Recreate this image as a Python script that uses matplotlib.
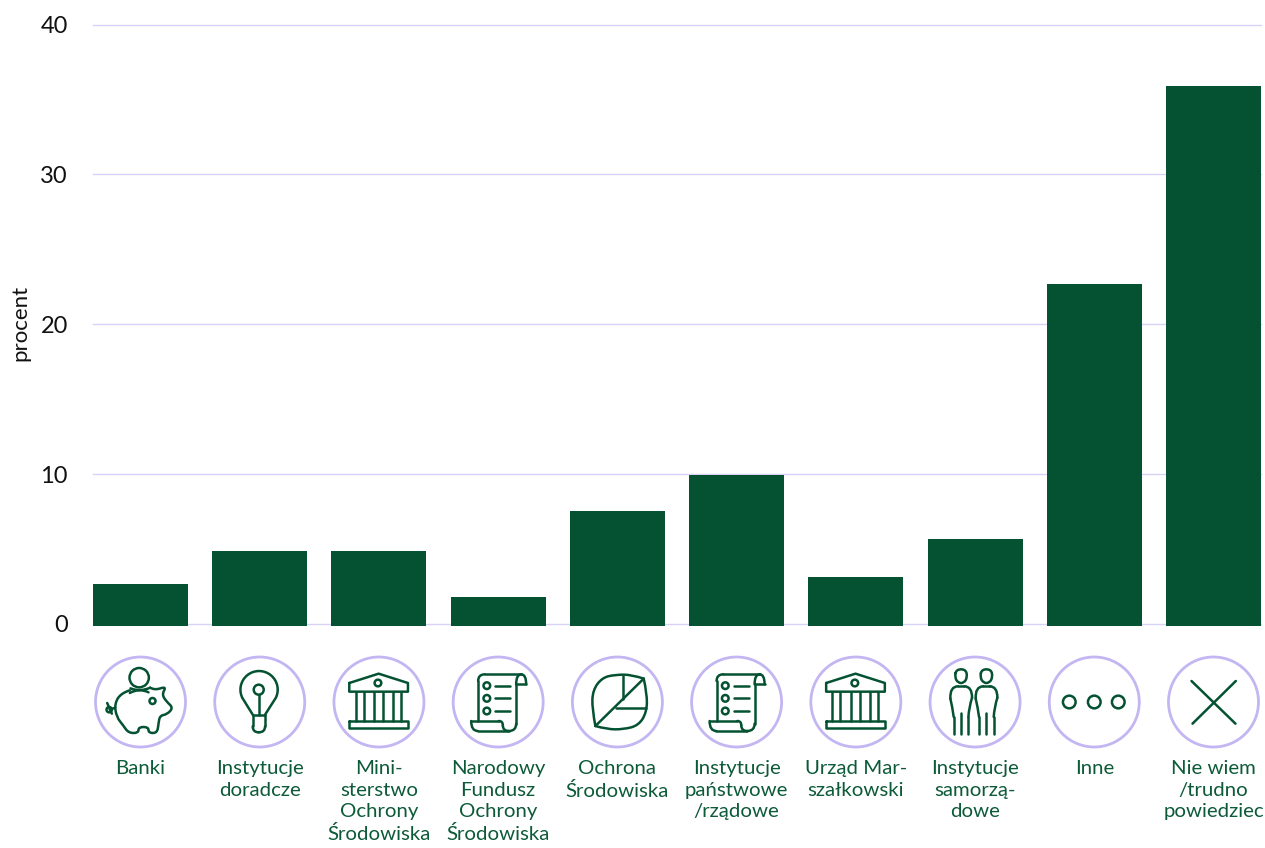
import math
import matplotlib
matplotlib.use("Agg")
import matplotlib.pyplot as plt
from matplotlib.path import Path
from matplotlib.patches import PathPatch, Circle

categories = ["Banki", "Instytucje\ndoradcze", "Mini-\nsterstwo\nOchrony\nŚrodowiska",
              "Narodowy\nFundusz\nOchrony\nŚrodowiska", "Ochrona\nŚrodowiska",
              "Instytucje\npaństwowe\n/rządowe", "Urząd Mar-\nszałkowski",
              "Instytucje\nsamorzą-\ndowe", "Inne", "Nie wiem\n/trudno\npowiedziec"]
values = [2.67, 4.87, 4.87, 1.8, 7.53, 9.93, 3.13, 5.67, 22.67, 35.87]
icons = ["pig", "bulb", "bank", "scroll", "leaf", "scroll", "bank", "people", "dots", "cross"]
y_ticks = [0, 10, 20, 30, 40]

W, H = 1265, 848
GREEN = "#045231"
TEXT_GREEN = "#0C5A38"
LAV = "#C3B6F2"
GRID = "#D8D2F8"
BAR_W = 0.797
BAR_BASE = -0.15

plt.rcParams["font.family"] = ["Lato", "DejaVu Sans"]
fig = plt.figure(figsize=(W / 100, H / 100), dpi=100)
ax = fig.add_axes([93 / W, 1 - 624 / H, (1261 - 93) / W, (624 - 24.5) / H])
xs = list(range(len(values)))
ax.bar(xs, [v - BAR_BASE for v in values], bottom=BAR_BASE, width=BAR_W, color=GREEN,
       clip_on=False, zorder=3, linewidth=0)
ax.set_xlim(-BAR_W / 2, xs[-1] + BAR_W / 2)
ax.set_ylim(0, 40)
ax.set_yticks(y_ticks)
ax.yaxis.grid(True, color=GRID, lw=1.0, zorder=0, clip_on=False)
ax.set_axisbelow(True)
for s in ax.spines.values():
    s.set_visible(False)
ax.tick_params(axis="y", length=0, pad=18, labelsize=17, labelcolor="#111111")
ax.set_xticks(xs, categories, fontsize=14.7, color=TEXT_GREEN, linespacing=1.32)
ax.tick_params(axis="x", length=0, pad=98)
ax.set_ylabel("procent", fontsize=16, color="#111111", labelpad=0)
ax.yaxis.set_label_coords(-63 / (1261 - 93), 0.503)

ov = fig.add_axes([0, 0, 1, 1], zorder=5)
ov.set_xlim(0, W)
ov.set_ylim(H, 0)
ov.axis("off")
ov.patch.set_alpha(0)


def spline(pts, closed=False):
    """Quadratic spline through midpoints of the control polygon."""
    verts, codes = [], []
    n = len(pts)
    mid = lambda a, b: ((a[0] + b[0]) / 2, (a[1] + b[1]) / 2)
    if closed:
        verts.append(mid(pts[-1], pts[0])); codes.append(Path.MOVETO)
        for i in range(n):
            verts += [pts[i], mid(pts[i], pts[(i + 1) % n])]
            codes += [Path.CURVE3, Path.CURVE3]
    else:
        verts.append(pts[0]); codes.append(Path.MOVETO)
        for i in range(1, n - 1):
            end = mid(pts[i], pts[i + 1]) if i < n - 2 else pts[i + 1]
            verts += [pts[i], end]
            codes += [Path.CURVE3, Path.CURVE3]
    return Path(verts, codes)


def draw_icon(name, cx, cy):
    LW = 1.8

    def T(p):
        return (cx + (p[0] - 136) / 3, cy + (p[1] - 135) / 3)
    kw = dict(fill=False, ec=GREEN, lw=LW, capstyle="round", joinstyle="round")

    def line(*pts):
        ov.plot(*zip(*[T(p) for p in pts]), color=GREEN, lw=LW, solid_capstyle="round",
                solid_joinstyle="round")

    def circ(x, y, r):
        ov.add_patch(Circle(T((x, y)), r / 3, **kw))

    def sp(pts, closed=False):
        ov.add_patch(PathPatch(spline([T(p) for p in pts], closed), **kw))

    if name == "pig":
        circ(132, 62, 29)
        circ(172, 132, 9)
        sp([(165, 92), (178, 100), (214, 88), (200, 112), (214, 134), (234, 152), (216, 172),
            (194, 176), (190, 200), (186, 228), (160, 228), (160, 210), (130, 210), (130, 228),
            (100, 228), (84, 205), (64, 180), (58, 140), (78, 108), (104, 100)])
        sp([(104, 108), (132, 92), (160, 106)])
        sp([(106, 94), (134, 106), (165, 92)])
        line((60, 152), (44, 158))
        circ(42, 158, 8)
        line((36, 138), (50, 170))
    elif name == "bulb":
        circ(133, 98, 15)
        line((133, 113), (133, 173))
        arc = [(134 + 56 * math.cos(math.radians(a)), 98 - 56 * math.sin(math.radians(a)))
               for a in range(-25, 206, 10)]
        line((152, 173), *arc, (115, 173))
        line((115, 173), (152, 173))
        line((115, 173), (115, 208))
        sp([(115, 208), (115, 226), (133, 226)])
        sp([(133, 226), (152, 226), (152, 208)])
        line((152, 208), (152, 173))
    elif name == "bank":
        line((47, 78), (135, 50), (223, 78), (223, 104), (47, 104), (47, 78))
        circ(133, 78, 10)
        line((47, 193), (223, 193), (223, 213), (47, 213), (47, 193))
        for x in (66, 90, 122, 148, 178, 203):
            line((x, 104), (x, 193))
    elif name == "scroll":
        line((76, 192), (76, 72))
        sp([(76, 72), (76, 52), (96, 52)])
        line((96, 52), (205, 52))
        sp([(205, 52), (220, 52), (220, 82)])
        line((220, 82), (190, 82))
        sp([(205, 52), (190, 52), (190, 82)])
        line((190, 82), (190, 200))
        sp([(190, 200), (190, 222), (168, 222)])
        line((168, 222), (75, 222))
        sp([(75, 222), (55, 222), (55, 192)])
        line((55, 192), (138, 192))
        sp([(138, 192), (150, 192), (150, 205)])
        sp([(150, 205), (150, 222), (168, 222)])
        for y in (86, 124, 162):
            circ(102, y, 10)
            line((127, y), (172, y))
    elif name == "leaf":
        sp([(215, 65), (180, 53), (130, 53), (90, 62), (62, 100), (60, 155), (70, 207)])
        sp([(70, 207), (105, 217), (155, 217), (200, 205), (224, 165), (225, 110), (215, 65)])
        line((70, 207), (215, 65))
        line((152, 57), (152, 125))
        line((132, 153), (222, 153))
    elif name == "people":
        for off in (0, 76):
            o = lambda x, y: (x + off, y)
            sp([o(80, 37), o(108, 37), o(113, 60), o(103, 78), o(85, 78), o(75, 60)], closed=True)
            line(o(72, 232), o(72, 180))
            sp([o(72, 180), o(68, 150), o(62, 125)])
            sp([o(62, 125), o(60, 88), o(85, 88)])
            line(o(85, 88), o(104, 88))
            sp([o(104, 88), o(127, 88), o(127, 122)])
            sp([o(127, 122), o(118, 150), o(116, 180)])
            line(o(116, 180), o(116, 232))
            line(o(94, 168), o(94, 232))
    elif name == "dots":
        for x in (61, 136, 208):
            circ(x, 135, 19)
    elif name == "cross":
        line((70, 72), (202, 200))
        line((203, 72), (73, 200))


CY = 702
for x, name in zip(xs, icons):
    px = ax.transData.transform((x, 0))[0]
    ov.add_patch(Circle((px, CY), 45, fill=False, ec=LAV, lw=2.0))
    draw_icon(name, px, CY)

fig.savefig("out.png", dpi=100)
